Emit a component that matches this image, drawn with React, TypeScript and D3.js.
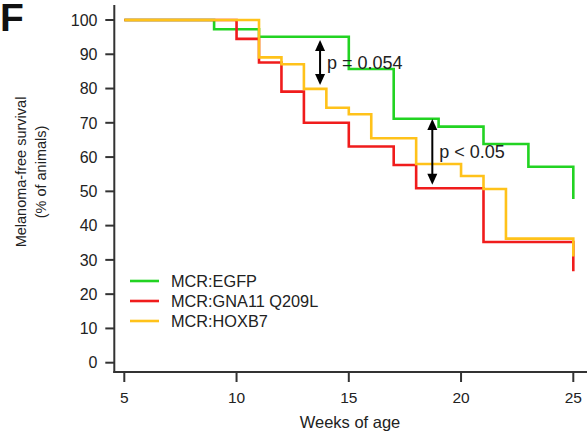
import React from "react";
import * as d3 from "d3";

// ---- data ----
const weekTicks = [5, 10, 15, 20, 25];
const survTicks = [0, 10, 20, 30, 40, 50, 60, 70, 80, 90, 100];

const egfpWeeks = [5, 9, 11, 15, 17, 19, 21, 23, 25];
const egfpSurv = [100, 97.3, 95.1, 85.7, 71.2, 68.9, 63.8, 57.2, 47.8];

const gnaWeeks = [5, 10, 11, 12, 13, 15, 17, 18, 21, 25];
const gnaSurv = [100, 94.5, 87.6, 79.1, 70.0, 63.1, 57.7, 50.9, 35.2, 26.7];

const hoxWeeks = [5, 11, 12, 13, 14, 15, 16, 18, 20, 21, 22, 25];
const hoxSurv = [100, 89.1, 87.1, 79.9, 74.4, 72.5, 65.5, 58.0, 54.5, 50.7, 36.2, 31.0];

const seriesNames = ["MCR:EGFP", "MCR:GNA11 Q209L", "MCR:HOXB7"];
const seriesColors = ["#22d322", "#f01c1c", "#ffc21a"];

const pLabels = ["p = 0.054", "p < 0.05"];
const pArrowWeek = [13.72, 18.72];
const pArrowTop = [94.2, 71.1];
const pArrowBottom = [81.0, 51.9];

const FONT = "'Liberation Sans', Arial, Helvetica, sans-serif";

export default function App() {
  const W = 587, H = 433;
  const x = d3.scaleLinear().domain([5, 25]).range([124.3, 573.3]);
  const y = d3.scaleLinear().domain([0, 100]).range([362.7, 20]);
  const axisX = 114.3;
  const axisY = 372;
  const axisColor = "#333";

  const line = d3
    .line<[number, number]>()
    .x((d) => x(d[0]))
    .y((d) => y(d[1]))
    .curve(d3.curveStepAfter);

  const series = [
    { weeks: egfpWeeks, surv: egfpSurv },
    { weeks: gnaWeeks, surv: gnaSurv },
    { weeks: hoxWeeks, surv: hoxSurv },
  ];

  const arrowHead = (cx: number, cy: number, dir: number) => {
    const hw = 5, hh = 11;
    return `M${cx},${cy} L${cx - hw},${cy + dir * hh} L${cx + hw},${cy + dir * hh} Z`;
  };

  return (
    <div style={{ position: "absolute", left: 0, top: 0 }}>
      <svg width={W} height={H} style={{ display: "block", background: "#fff" }}>
        {/* Panel label */}
        <text x={0} y={31} fontFamily={FONT} fontWeight="bold" fontSize={39} fill="#111">
          F
        </text>

        {/* Series */}
        {series.map((s, i) => (
          <path
            key={i}
            d={line(s.weeks.map((w, j) => [w, s.surv[j]] as [number, number])) || ""}
            fill="none"
            stroke={seriesColors[i]}
            strokeWidth={2.6}
          />
        ))}

        {/* Axes */}
        <line x1={axisX} y1={5} x2={axisX} y2={axisY + 1} stroke={axisColor} strokeWidth={2} />
        <line x1={axisX - 1} y1={axisY} x2={W} y2={axisY} stroke={axisColor} strokeWidth={2} />
        {survTicks.map((t) => (
          <g key={"y" + t}>
            <line x1={axisX - 9} x2={axisX} y1={y(t)} y2={y(t)} stroke={axisColor} strokeWidth={2} />
            <text
              x={97.5}
              y={y(t)}
              dy="0.36em"
              textAnchor="end"
              fontFamily={FONT}
              fontSize={16}
              fill="#222"
            >
              {t}
            </text>
          </g>
        ))}
        {weekTicks.map((t) => (
          <g key={"x" + t}>
            <line x1={x(t)} x2={x(t)} y1={axisY} y2={axisY + 10} stroke={axisColor} strokeWidth={2} />
            <text
              x={x(t)}
              y={403}
              textAnchor="middle"
              fontFamily={FONT}
              fontSize={15.5}
              fill="#222"
            >
              {t}
            </text>
          </g>
        ))}

        {/* Axis titles */}
        <text x={350} y={428} textAnchor="middle" fontFamily={FONT} fontSize={16.5} fill="#222">
          Weeks of age
        </text>
        <g transform="translate(26,172) rotate(-90)">
          <text x={0} y={0} textAnchor="middle" fontFamily={FONT} fontSize={14.5} fill="#222">
            Melanoma-free survival
          </text>
          <text x={0} y={20} textAnchor="middle" fontFamily={FONT} fontSize={14.5} fill="#222">
            (% of animals)
          </text>
        </g>

        {/* Legend */}
        {seriesNames.map((n, i) => (
          <g key={n} transform={`translate(0,${281 + i * 20})`}>
            <line x1={130} x2={159} y1={0} y2={0} stroke={seriesColors[i]} strokeWidth={2.6} />
            <text x={171} y={0} dy="0.36em" fontFamily={FONT} fontSize={16.3} fill="#222">
              {n}
            </text>
          </g>
        ))}

        {/* p-value annotations */}
        {pLabels.map((lab, i) => {
          const ax = x(pArrowWeek[i]);
          const yt = y(pArrowTop[i]);
          const yb = y(pArrowBottom[i]);
          return (
            <g key={lab}>
              <line x1={ax} x2={ax} y1={yt + 6} y2={yb - 6} stroke="#000" strokeWidth={2} />
              <path d={arrowHead(ax, yt, 1)} fill="#000" />
              <path d={arrowHead(ax, yb, -1)} fill="#000" />
              <text
                x={ax + 7}
                y={(yt + yb) / 2}
                dy="0.36em"
                fontFamily={FONT}
                fontSize={18}
                fill="#222"
              >
                {lab}
              </text>
            </g>
          );
        })}
      </svg>
    </div>
  );
}
